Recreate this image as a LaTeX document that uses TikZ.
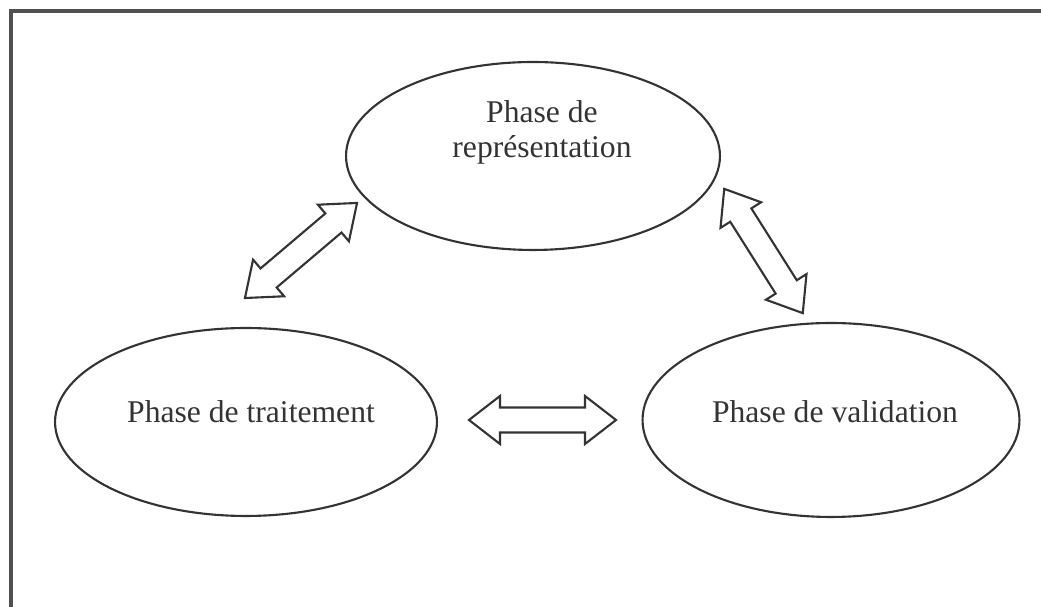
\documentclass[tikz,border=0pt]{standalone}
\usepackage{fontspec}
\setmainfont{Liberation Serif}
\usetikzlibrary{shapes.geometric}
% block arrow sizes (in picture units)
\newcommand{\arrhalflen}{73.5}
\newcommand{\arrheadback}{42.5}
\newcommand{\arrheadhalf}{24}
\newcommand{\arrshafthalf}{12.5}
\newcommand{\dblarrow}[2]{
  \begin{scope}[shift={#1}, rotate=#2]
    \draw[blockarrow] (-\arrhalflen,0) -- (-\arrheadback,\arrheadhalf)
      -- (-\arrheadback,\arrshafthalf) -- (\arrheadback,\arrshafthalf)
      -- (\arrheadback,\arrheadhalf) -- (\arrhalflen,0)
      -- (\arrheadback,-\arrheadhalf) -- (\arrheadback,-\arrshafthalf)
      -- (-\arrheadback,-\arrshafthalf) -- (-\arrheadback,-\arrheadhalf)
      -- cycle;
  \end{scope}
}
\definecolor{inkgray}{HTML}{333333}
\definecolor{framegray}{HTML}{505050}
\tikzset{
  phase/.style={ellipse, draw=inkgray, line width=1.2pt, inner sep=0pt},
  phasetext/.style={font=\fontsize{18pt}{20.4pt}\selectfont, text=inkgray,
    align=center, inner sep=0pt, anchor=base},
  blockarrow/.style={draw=inkgray, line width=1.2pt, line join=miter, fill=white}
}
\begin{document}
\begin{tikzpicture}[x=0.02cm, y=0.02cm]
    \useasboundingbox (0,0) rectangle (1041,607);
    % frame (cut at right and bottom)
    \draw[framegray, line width=1.8pt] (11,-20) -- (11,596) -- (1060,596);
    % phases
    \node[phase, minimum width=7.48cm, minimum height=3.76cm] (rep) at (533,451) {};
    \node[phase, minimum width=7.64cm, minimum height=3.76cm] (trait) at (246,185) {};
    \node[phase, minimum width=7.54cm, minimum height=3.88cm] (valid) at (831,187) {};
    \node[phasetext] (reptxt) at (542,449) {Phase de\\représentation};
    \node[phasetext] (traittxt) at (251,184) {Phase de traitement};
    \node[phasetext] (validtxt) at (835,184) {Phase de validation};
    % arrows
    \dblarrow{(301,356.5)}{40.3}
    \dblarrow{(763.5,356)}{-57.7}
    \dblarrow{(542.5,187)}{0}
\end{tikzpicture}
\end{document}
